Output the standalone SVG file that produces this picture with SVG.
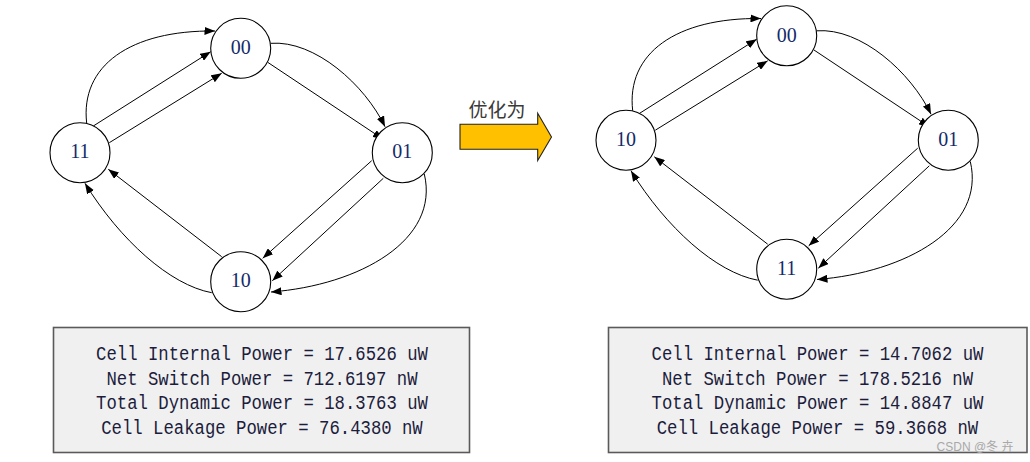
<svg xmlns="http://www.w3.org/2000/svg" width="1030" height="462" viewBox="0 0 1030 462">
<style>
.edge{fill:none;stroke:#000;stroke-width:1;marker-end:url(#ah)}
.node circle{fill:#fff;stroke:#000;stroke-width:1.1}
.node text{font-family:"Liberation Serif","Times New Roman",serif;font-size:20px;fill:#142a6a;text-anchor:middle}
.box{fill:#f0f0f0;stroke:#5a5a5a;stroke-width:1.6}
.pw{font-family:"Liberation Mono","Courier New",monospace;font-size:19.5px;fill:#1c1c3c;text-anchor:middle}
</style>
<defs>
<marker id="ah" markerUnits="userSpaceOnUse" markerWidth="11" markerHeight="8" refX="10.5" refY="4" orient="auto">
<path d="M0,0 L10.5,4 L0,8 z" fill="#000"/>
</marker>
</defs>
<rect width="1030" height="462" fill="#fff"/>

<g id="left-graph">
<g id="left-connectors">
<path class="edge" d="M86.7,123.3 C80,66 130,30 215,31"/>
<path class="edge" d="M93.3,126 L210.7,51.7"/>
<path class="edge" d="M109.3,142.7 L221.7,73.3"/>
<path class="edge" d="M270.7,43.3 C315,40 365,85 385,126.7"/>
<path class="edge" d="M267.7,62.3 L383.3,139.3"/>
<path class="edge" d="M371.7,160.7 L262.7,258.3"/>
<path class="edge" d="M383.3,178.3 L272.3,280.7"/>
<path class="edge" d="M424.3,174 C440,240 360,285 271,292"/>
<path class="edge" d="M221.7,256.7 L108.3,169.3"/>
<path class="edge" d="M211.7,292.7 C170,285 120,240 85,183.3"/>
</g>
<g id="L00" class="node"><circle cx="240.7" cy="48.3" r="30"/><text x="240.7" y="54">00</text></g>
<g id="L11" class="node"><circle cx="80" cy="152.7" r="30"/><text x="80" y="158.4">11</text></g>
<g id="L01" class="node"><circle cx="402.3" cy="152.7" r="30"/><text x="402.3" y="158.4">01</text></g>
<g id="L10" class="node"><circle cx="240.7" cy="281.7" r="30"/><text x="240.7" y="287.4">10</text></g>
</g>

<g id="right-graph" transform="translate(546,-12.5)">
<g id="right-connectors">
<path class="edge" d="M86.7,123.3 C80,66 130,30 215,31"/>
<path class="edge" d="M93.3,126 L210.7,51.7"/>
<path class="edge" d="M109.3,142.7 L221.7,73.3"/>
<path class="edge" d="M270.7,43.3 C315,40 365,85 385,126.7"/>
<path class="edge" d="M267.7,62.3 L383.3,139.3"/>
<path class="edge" d="M371.7,160.7 L262.7,258.3"/>
<path class="edge" d="M383.3,178.3 L272.3,280.7"/>
<path class="edge" d="M424.3,174 C440,240 360,285 271,292"/>
<path class="edge" d="M221.7,256.7 L108.3,169.3"/>
<path class="edge" d="M211.7,292.7 C170,285 120,240 85,183.3"/>
</g>
<g id="R00" class="node"><circle cx="240.7" cy="48.3" r="30"/><text x="240.7" y="54">00</text></g>
<g id="R10" class="node"><circle cx="80" cy="152.7" r="30"/><text x="80" y="158.4">10</text></g>
<g id="R01" class="node"><circle cx="402.3" cy="152.7" r="30"/><text x="402.3" y="158.4">01</text></g>
<g id="R11" class="node"><circle cx="240.7" cy="281.7" r="30"/><text x="240.7" y="287.4">11</text></g>
</g>

<g id="optimize-arrow">
<path d="M460,124.3 L537.7,124.3 L537.7,113.3 L551.5,137 L537.7,160.5 L537.7,149.3 L460,149.3 z" fill="#ffc000" stroke="#222" stroke-width="1.1"/>
<text x="497" y="116.5" font-family="'Noto Sans CJK SC',sans-serif" font-size="19" fill="#3a3a3a" text-anchor="middle">优化为</text>
</g>

<g id="left-power">
<rect class="box" x="53.5" y="327.5" width="416" height="125"/>
<text class="pw" x="262" y="359.5" textLength="331.8" lengthAdjust="spacingAndGlyphs">Cell Internal Power = 17.6526 uW</text>
<text class="pw" x="262" y="384.5" textLength="311.1" lengthAdjust="spacingAndGlyphs">Net Switch Power = 712.6197 nW</text>
<text class="pw" x="262" y="409" textLength="331.8" lengthAdjust="spacingAndGlyphs">Total Dynamic Power = 18.3763 uW</text>
<text class="pw" x="262" y="433.5" textLength="321.5" lengthAdjust="spacingAndGlyphs">Cell Leakage Power = 76.4380 nW</text>
</g>

<g id="right-power">
<rect class="box" x="608.5" y="327.5" width="418.5" height="125"/>
<text class="pw" x="817.5" y="359.5" textLength="331.8" lengthAdjust="spacingAndGlyphs">Cell Internal Power = 14.7062 uW</text>
<text class="pw" x="817.5" y="384.5" textLength="311.1" lengthAdjust="spacingAndGlyphs">Net Switch Power = 178.5216 nW</text>
<text class="pw" x="817.5" y="409" textLength="331.8" lengthAdjust="spacingAndGlyphs">Total Dynamic Power = 14.8847 uW</text>
<text class="pw" x="817.5" y="433.5" textLength="321.5" lengthAdjust="spacingAndGlyphs">Cell Leakage Power = 59.3668 nW</text>
</g>

<text x="975" y="451" font-family="'Liberation Sans','Noto Sans CJK SC',sans-serif" font-size="12" fill="#a8a8a8" text-anchor="middle">CSDN @冬 卉</text>
</svg>
